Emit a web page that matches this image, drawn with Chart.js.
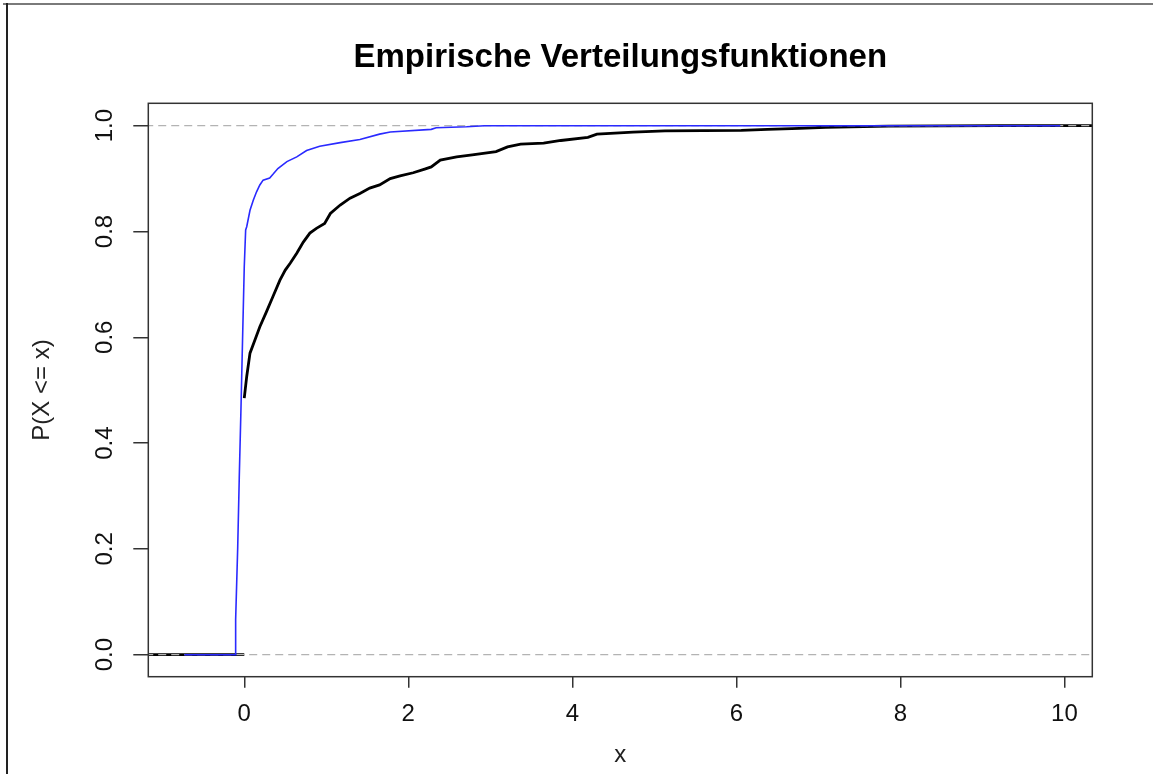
<!DOCTYPE html>
<html>
<head>
<meta charset="utf-8">
<title>Empirische Verteilungsfunktionen</title>
<script src="https://cdn.jsdelivr.net/npm/chart.js@4.4.1/dist/chart.umd.min.js"></script>
<style>
    html, body { margin: 0; padding: 0; background: #fff; }
    #wrap { position: relative; width: 1153px; height: 774px; overflow: hidden; }
    #frameTop { position: absolute; left: 3px; top: 3px; right: 0; height: 2px; background: #7a7a7a; }
    #frameLeft { position: absolute; left: 6px; top: 3px; bottom: 0; width: 2px; background: #222; }
    canvas { position: absolute; left: 0; top: 0; }
</style>
</head>
<body>
<div id="wrap">
    <canvas id="ecdfChart" width="1153" height="774"></canvas>
    <div id="frameTop"></div>
    <div id="frameLeft"></div>
</div>
<script>
// Blaue ECDF (zweite Stichprobe)
const blueX = [-0.73, -0.105, -0.105, -0.08, -0.061, -0.04, -0.02, 0.0, 0.017, 0.03, 0.07, 0.11, 0.15, 0.19, 0.23,
    0.31, 0.35, 0.41, 0.52, 0.64, 0.76, 0.92, 1.17, 1.41, 1.65, 1.78, 2.28, 2.34, 2.71, 2.93, 9.95];
const blueY = [0, 0, 0.066, 0.202, 0.334, 0.466, 0.601, 0.733, 0.803, 0.809, 0.84, 0.859, 0.875, 0.888, 0.897,
    0.901, 0.908, 0.919, 0.932, 0.941, 0.953, 0.961, 0.968, 0.974, 0.984, 0.988, 0.993, 0.996, 0.998, 1.0, 1.0];

// Schwarze ECDF (erste Stichprobe), null = Lücke (keine Senkrechte bei x = 0)
const blackX = [-2, 0, 0, 0, 0.03, 0.07, 0.13, 0.19, 0.27, 0.35, 0.435, 0.5, 0.56, 0.64, 0.72, 0.8, 0.88, 0.98,
    1.05, 1.17, 1.29, 1.41, 1.53, 1.65, 1.78, 1.9, 2.06, 2.2, 2.28, 2.39, 2.59, 2.78, 3.07, 3.21, 3.37, 3.65,
    3.86, 4.19, 4.3, 4.74, 5.13, 6.06, 6.38, 6.77, 7.09, 7.86, 9.2, 11];
const blackY = [0, 0, null, 0.485, 0.526, 0.57, 0.595, 0.62, 0.648, 0.677, 0.708, 0.727, 0.74, 0.759, 0.78, 0.797,
    0.806, 0.815, 0.834, 0.85, 0.863, 0.872, 0.882, 0.888, 0.9, 0.905, 0.911, 0.918, 0.922, 0.935, 0.941, 0.945,
    0.951, 0.96, 0.965, 0.967, 0.972, 0.978, 0.984, 0.988, 0.99, 0.991, 0.993, 0.995, 0.997, 0.999, 1.0, 1.0];

// Hilfslinien (abline h = 0 und h = 1)
const refLevels = [0, 1];
const refSpan = [-2, 11];

// Achsen
const xTicks = [0, 2, 4, 6, 8, 10];
const yTicks = [0, 0.2, 0.4, 0.6, 0.8, 1.0];
const yTickLabels = ['0.0', '0.2', '0.4', '0.6', '0.8', '1.0'];
const xRange = [-1.17, 10.34];
const yRange = [-0.0416, 1.0423];

const toPoints = (xs, ys) => xs.map((x, i) => ({ x: x, y: ys[i] }));

Chart.defaults.font.family = "'Liberation Sans', Arial, sans-serif";
Chart.defaults.color = '#111';

// Rahmen um die Plotfläche wie box() in R
const boxPlugin = {
    id: 'plotBox',
    afterDraw(chart) {
        const { ctx, chartArea: a } = chart;
        ctx.save();
        ctx.strokeStyle = '#333';
        ctx.lineWidth = 1.5;
        ctx.strokeRect(a.left, a.top, a.right - a.left, a.bottom - a.top);
        ctx.restore();
    }
};

const ctx = document.getElementById('ecdfChart').getContext('2d');
new Chart(ctx, {
    type: 'scatter',
    data: {
        datasets: [
            {
                label: 'blau',
                data: toPoints(blueX, blueY),
                showLine: true,
                borderColor: '#2a2aff',
                borderWidth: 1.6,
                pointRadius: 0
            },
            ...refLevels.map(level => ({
                label: 'h=' + level,
                data: refSpan.map(x => ({ x: x, y: level })),
                showLine: true,
                borderColor: '#b3b3b3',
                borderWidth: 1.2,
                borderDash: [8, 5],
                pointRadius: 0
            })),
            {
                label: 'schwarz',
                data: toPoints(blackX, blackY),
                showLine: true,
                spanGaps: false,
                borderColor: '#000',
                borderWidth: 2.8,
                pointRadius: 0
            }
        ]
    },
    options: {
        responsive: false,
        animation: false,
        events: [],
        layout: { padding: { left: 0, right: 60.7, top: 0, bottom: 0 } },
        plugins: {
            legend: { display: false },
            tooltip: { enabled: false },
            title: {
                display: true,
                fullSize: false,
                text: 'Empirische Verteilungsfunktionen',
                color: '#000',
                font: { size: 33, weight: 'bold' },
                padding: { top: 38.5, bottom: 25.2 }
            }
        },
        scales: {
            x: {
                type: 'linear',
                min: xRange[0],
                max: xRange[1],
                afterBuildTicks: scale => { scale.ticks = xTicks.map(v => ({ value: v })); },
                afterFit: scale => { scale.height = 97.3; },
                ticks: {
                    font: { size: 24 },
                    color: '#111',
                    padding: 12,
                    maxRotation: 0,
                    callback: value => String(value)
                },
                grid: { drawOnChartArea: false, tickLength: 11, color: '#333', lineWidth: 1.5 },
                border: { display: false },
                title: {
                    display: true,
                    text: 'x',
                    color: '#222',
                    font: { size: 24 },
                    padding: { top: 0, bottom: 4 }
                }
            },
            y: {
                type: 'linear',
                min: yRange[0],
                max: yRange[1],
                afterBuildTicks: scale => { scale.ticks = yTicks.map(v => ({ value: v })); },
                afterFit: scale => { scale.width = 148.3; },
                ticks: {
                    font: { size: 24 },
                    color: '#111',
                    padding: 11,
                    minRotation: 90,
                    maxRotation: 90,
                    crossAlign: 'center',
                    callback: value => yTickLabels[yTicks.indexOf(value)] ?? ''
                },
                grid: { drawOnChartArea: false, tickLength: 15, color: '#333', lineWidth: 1.5 },
                border: { display: false },
                title: {
                    display: true,
                    text: 'P(X <= x)',
                    color: '#222',
                    font: { size: 24 },
                    padding: { top: 27.6, bottom: 0 }
                }
            }
        }
    },
    plugins: [boxPlugin]
});
</script>
</body>
</html>
